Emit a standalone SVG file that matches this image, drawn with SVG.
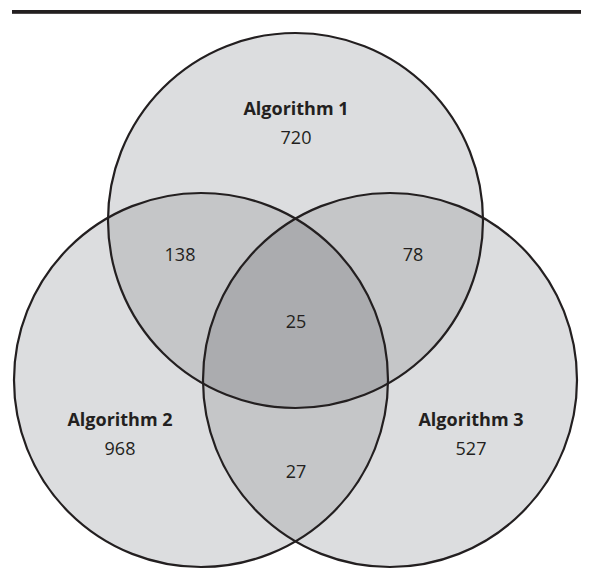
<svg xmlns="http://www.w3.org/2000/svg" width="594" height="576" viewBox="0 0 594 576">
  <style>
    .fill { fill: #dcdddf; stroke: none; }
    .dbl { fill: #c5c6c8; stroke: none; }
    .tri { fill: #abacaf; stroke: none; }
    .ring { fill: none; stroke: #231f20; stroke-width: 2.2; }
    .lbl { font-family: "Open Sans", "Noto Sans", sans-serif; font-size: 18px; font-weight: bold; fill: #231f20; text-anchor: middle; }
    .num { font-family: "Open Sans", "Noto Sans", sans-serif; font-size: 18px; fill: #231f20; text-anchor: middle; }
  </style>
  <defs>
    <clipPath id="c1"><circle cx="295.5" cy="220.5" r="187.5"/></clipPath>
    <clipPath id="c2"><circle cx="201" cy="380" r="187"/></clipPath>
    <clipPath id="c3"><circle cx="390" cy="380" r="187"/></clipPath>
  </defs>
  <rect x="12" y="10" width="569" height="3.8" fill="#231f20"/>
  <g id="fills">
    <circle class="fill" cx="295.5" cy="220.5" r="187.5"/>
    <circle class="fill" cx="201" cy="380" r="187"/>
    <circle class="fill" cx="390" cy="380" r="187"/>
  </g>
  <g id="overlaps">
    <circle class="dbl" cx="201" cy="380" r="187" clip-path="url(#c1)"/>
    <circle class="dbl" cx="390" cy="380" r="187" clip-path="url(#c1)"/>
    <circle class="dbl" cx="390" cy="380" r="187" clip-path="url(#c2)"/>
    <g clip-path="url(#c2)">
      <circle class="tri" cx="390" cy="380" r="187" clip-path="url(#c1)"/>
    </g>
  </g>
  <g id="algorithm1">
    <circle class="ring" cx="295.5" cy="220.5" r="187.5"/>
    <text class="lbl" x="296" y="115">Algorithm 1</text>
    <text class="num" x="296" y="144">720</text>
  </g>
  <g id="algorithm2">
    <circle class="ring" cx="201" cy="380" r="187"/>
    <text class="lbl" x="120" y="426">Algorithm 2</text>
    <text class="num" x="120" y="455">968</text>
  </g>
  <g id="algorithm3">
    <circle class="ring" cx="390" cy="380" r="187"/>
    <text class="lbl" x="471" y="426">Algorithm 3</text>
    <text class="num" x="471" y="455">527</text>
  </g>
  <g id="intersections">
    <text class="num" x="180" y="261">138</text>
    <text class="num" x="413" y="261">78</text>
    <text class="num" x="296" y="328">25</text>
    <text class="num" x="296" y="478">27</text>
  </g>
</svg>
